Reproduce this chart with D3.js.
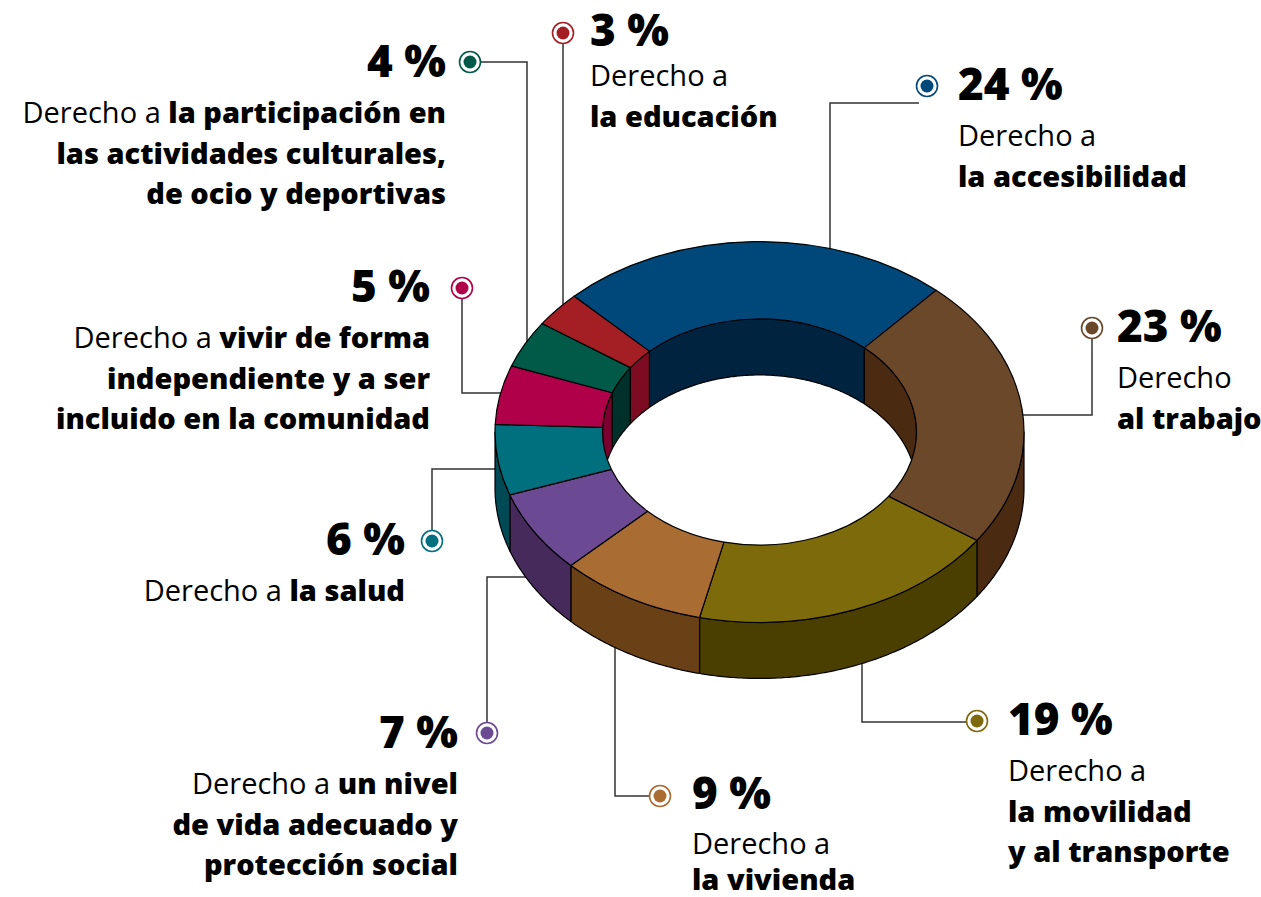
<!DOCTYPE html>
<html>
<head>
<meta charset="utf-8">
<script src="https://cdn.jsdelivr.net/npm/d3@7"></script>
<style>
  html, body { margin: 0; padding: 0; background: #fff; }
  svg { display: block; }
  text { font-family: "Open Sans", "Noto Sans", sans-serif; fill: #000; }
</style>
</head>
<body>
<svg id="chart" width="1261" height="897"></svg>
<script>
// ---------- DATA ----------
const categories = [
  "la accesibilidad", "al trabajo", "la movilidad y al transporte", "la vivienda",
  "un nivel de vida adecuado y protección social", "la salud",
  "vivir de forma independiente y a ser incluido en la comunidad",
  "la participación en las actividades culturales, de ocio y deportivas", "la educación"
];
const values = [24, 23, 19, 9, 7, 6, 5, 4, 3];
const topColors  = ["#00487a", "#6b482a", "#7d6b0b", "#a96c33", "#6c4a93", "#00707f", "#b0004a", "#005a47", "#a41f24"];
const sideColors = ["#002340", "#4a2a11", "#4b3f00", "#6a4116", "#462a5c", "#004a55", "#7a0030", "#00302a", "#7d0c22"];
// label text lines: each line is a list of [text, isBold]
const labelLines = [
  [[["Derecho a", false]], [["la accesibilidad", true]]],
  [[["Derecho", false]], [["al trabajo", true]]],
  [[["Derecho a", false]], [["la movilidad", true]], [["y al transporte", true]]],
  [[["Derecho a", false]], [["la vivienda", true]]],
  [[["Derecho a ", false], ["un nivel", true]], [["de vida adecuado y", true]], [["protección social", true]]],
  [[["Derecho a ", false], ["la salud", true]]],
  [[["Derecho a ", false], ["vivir de forma", true]], [["independiente y a ser", true]], [["incluido en la comunidad", true]]],
  [[["Derecho a ", false], ["la participación en", true]], [["las actividades culturales,", true]], [["de ocio y deportivas", true]]],
  [[["Derecho a", false]], [["la educación", true]]]
];

// ---------- LAYOUT ----------
const W = 1261, H = 897;
const cx = 759.5, cy = 432;
const Rout = 264.5, Rin = 157, k = 0.72, depth = 56;
const startAngle = -44.5 * Math.PI / 180;

// label layout: marker position, text anchor, leader path (marker -> donut)
const layout = [
  { mx: 927, my: 86,  tx: 958,  ty: 100, anchor: "start", first: 46, gap: 40.5, leader: [[919, 103], [830, 103], [830, 300]] },
  { mx: 1092, my: 328, tx: 1117, ty: 342, anchor: "start", first: 46, gap: 40.5, leader: [[1092, 339], [1092, 415], [1000, 415]] },
  { mx: 977, my: 721, tx: 1008, ty: 735, anchor: "start", first: 46, gap: 40.5, leader: [[966, 722], [862, 722], [862, 600]] },
  { mx: 660, my: 796, tx: 692,  ty: 809, anchor: "start", first: 45, gap: 35.5, leader: [[649, 796], [615, 796], [615, 600]] },
  { mx: 487, my: 733, tx: 458,  ty: 748, anchor: "end",   first: 46, gap: 40.5, leader: [[487, 722], [487, 577], [560, 577]] },
  { mx: 432, my: 541, tx: 405,  ty: 555, anchor: "end",   first: 46, gap: 40.5, leader: [[432, 530], [432, 469], [520, 469]] },
  { mx: 462, my: 288, tx: 430,  ty: 302, anchor: "end",   first: 46, gap: 40.5, leader: [[462, 299], [462, 393], [540, 393]] },
  { mx: 470, my: 62,  tx: 446,  ty: 77,  anchor: "end",   first: 46, gap: 40.5, leader: [[481, 62], [527, 62], [527, 380]] },
  { mx: 563, my: 33,  tx: 590,  ty: 46,  anchor: "start", first: 40, gap: 40.5, leader: [[563, 44], [563, 330]] }
];

// ---------- DRAW ----------
const svg = d3.select("#chart");
const pie = d3.pie().sort(null).value(d => d)
  .startAngle(startAngle).endAngle(startAngle + 2 * Math.PI);
const arcsData = pie(values);

// leader lines (under the donut)
const gLines = svg.append("g");
layout.forEach(l => {
  gLines.append("path")
    .attr("d", d3.line()(l.leader))
    .attr("fill", "none").attr("stroke", "#333").attr("stroke-width", 1.5);
});

function ellPts(a0, a1, rx, ry, dy) {
  const n = Math.max(2, Math.ceil(Math.abs(a1 - a0) / 0.01));
  return d3.range(n + 1).map(i => {
    const a = a0 + (a1 - a0) * i / n;
    return [cx + rx * Math.sin(a), cy - ry * Math.cos(a) + dy];
  });
}
function wallPath(a0, a1, rx, ry) {
  const top = ellPts(a0, a1, rx, ry, 0);
  const bot = ellPts(a1, a0, rx, ry, depth);
  return d3.line()(top.concat(bot)) + "Z";
}
function intersect(a0, a1, lo, hi) {
  const s = Math.max(a0, lo), e = Math.min(a1, hi);
  return s < e ? [s, e] : null;
}

const gDonut = svg.append("g");
// inner walls (back half of hole)
arcsData.forEach((d, i) => {
  [[-Math.PI / 2, Math.PI / 2], [3 * Math.PI / 2, 5 * Math.PI / 2]].forEach(([lo, hi]) => {
    const seg = intersect(d.startAngle, d.endAngle, lo, hi);
    if (seg) gDonut.append("path")
      .attr("d", wallPath(seg[0], seg[1], Rin, Rin * k))
      .attr("fill", sideColors[i]).attr("stroke", "#000").attr("stroke-width", 1.2)
      .attr("stroke-linejoin", "round");
  });
});
// outer walls (front half)
arcsData.forEach((d, i) => {
  const seg = intersect(d.startAngle, d.endAngle, Math.PI / 2, 3 * Math.PI / 2);
  if (seg) gDonut.append("path")
    .attr("d", wallPath(seg[0], seg[1], Rout, Rout * k))
    .attr("fill", sideColors[i]).attr("stroke", "#000").attr("stroke-width", 1.2)
    .attr("stroke-linejoin", "round");
});
// top faces
const arc = d3.arc().innerRadius(Rin).outerRadius(Rout);
gDonut.append("g")
  .attr("transform", `translate(${cx},${cy}) scale(1,${k})`)
  .selectAll("path").data(arcsData).join("path")
  .attr("d", arc)
  .attr("fill", (d, i) => topColors[i])
  .attr("stroke", "#000").attr("stroke-width", 1.2)
  .attr("vector-effect", "non-scaling-stroke")
  .attr("stroke-linejoin", "round");

// markers and labels
const gLab = svg.append("g");
layout.forEach((l, i) => {
  gLab.append("circle").attr("cx", l.mx).attr("cy", l.my).attr("r", 10.5)
    .attr("fill", "#fff").attr("stroke", topColors[i]).attr("stroke-width", 1.6);
  gLab.append("circle").attr("cx", l.mx).attr("cy", l.my).attr("r", 6.5)
    .attr("fill", topColors[i]);
  gLab.append("text").attr("x", l.tx).attr("y", l.ty)
    .attr("text-anchor", l.anchor)
    .attr("font-size", 44).attr("font-weight", 800)
    .text(values[i] + " %");
  labelLines[i].forEach((line, j) => {
    const t = gLab.append("text").attr("x", l.tx).attr("y", l.ty + l.first + j * l.gap)
      .attr("text-anchor", l.anchor).attr("font-size", 29);
    line.forEach(([s, b]) => {
      t.append("tspan").attr("font-weight", b ? 800 : 400).text(s);
    });
  });
});
</script>
</body>
</html>
